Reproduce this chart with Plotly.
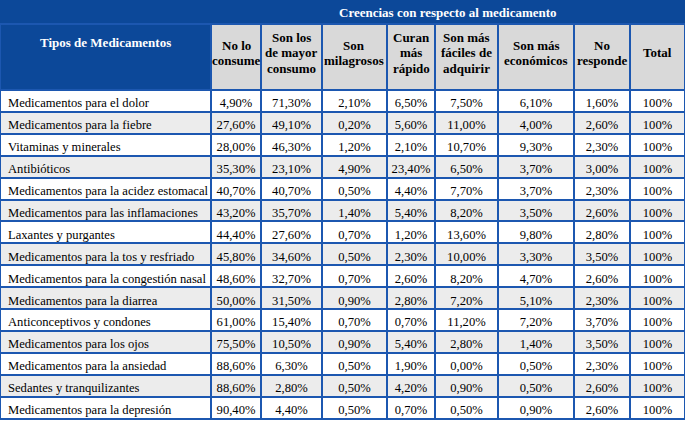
import plotly.graph_objects as go

# Datos de la tabla (porcentajes)
tipos = [
    "Medicamentos para el dolor",
    "Medicamentos para la fiebre",
    "Vitaminas y minerales",
    "Antibióticos",
    "Medicamentos para la acidez estomacal",
    "Medicamentos para las inflamaciones",
    "Laxantes y purgantes",
    "Medicamentos para la tos y resfriado",
    "Medicamentos para la congestión nasal",
    "Medicamentos para la diarrea",
    "Anticonceptivos y condones",
    "Medicamentos para los ojos",
    "Medicamentos para la ansiedad",
    "Sedantes y tranquilizantes",
    "Medicamentos para la depresión",
]
no_lo_consume = [4.9, 27.6, 28.0, 35.3, 40.7, 43.2, 44.4, 45.8, 48.6, 50.0, 61.0, 75.5, 88.6, 88.6, 90.4]
mayor_consumo = [71.3, 49.1, 46.3, 23.1, 40.7, 35.7, 27.6, 34.6, 32.7, 31.5, 15.4, 10.5, 6.3, 2.8, 4.4]
milagrosos = [2.1, 0.2, 1.2, 4.9, 0.5, 1.4, 0.7, 0.5, 0.7, 0.9, 0.7, 0.9, 0.5, 0.5, 0.5]
curan_rapido = [6.5, 5.6, 2.1, 23.4, 4.4, 5.4, 1.2, 2.3, 2.6, 2.8, 0.7, 5.4, 1.9, 4.2, 0.7]
faciles_adquirir = [7.5, 11.0, 10.7, 6.5, 7.7, 8.2, 13.6, 10.0, 8.2, 7.2, 11.2, 2.8, 0.0, 0.9, 0.5]
economicos = [6.1, 4.0, 9.3, 3.7, 3.7, 3.5, 9.8, 3.3, 4.7, 5.1, 7.2, 1.4, 0.5, 0.5, 0.9]
no_responde = [1.6, 2.6, 2.3, 3.0, 2.3, 2.6, 2.8, 3.5, 2.6, 2.3, 3.7, 3.5, 2.3, 2.6, 2.6]
total = [100] * len(tipos)

titulo_grupo = "Creencias con respecto al medicamento"
titulo_tipos = "Tipos de Medicamentos"
encabezados = [
    "No lo<br>consume",
    "Son los<br>de mayor<br>consumo",
    "Son<br>milagrosos",
    "Curan<br>más<br>rápido",
    "Son más<br>fáciles de<br>adquirir",
    "Son más<br>económicos",
    "No<br>responde",
    "Total",
]

# Estilo
W, H = 685, 423
anchos = [211, 50, 61, 65, 48, 63, 76, 56, 55]
alto_banda = 24
alto_encabezado = 66
alto_fila = 21.9
centro_encabezado = 53    # px desde arriba
interlineado = 15.5
AZUL = "#0c4899"
LINEA = "#1c57b0"
GRIS_ENC = "#d9d9d9"
GRIS_FILA = "#ececec"
FUENTE = "Liberation Serif"


def pct(v):
    return f"{v:.2f}".replace(".", ",") + "%"


# espacios duros para que la tabla no parta los nombres largos
nombres = [t.replace(" ", "\u00a0") for t in tipos]
columnas = [no_lo_consume, mayor_consumo, milagrosos, curan_rapido,
            faciles_adquirir, economicos, no_responde]
valores = [nombres] + [[pct(v) for v in col] for col in columnas] + [[f"{t}%" for t in total]]
relleno_filas = ["white" if i % 2 == 0 else GRIS_FILA for i in range(len(tipos))]

y_corte = 1 - alto_banda / H

fig = go.Figure()

# Banda azul superior
fig.add_trace(go.Table(
    domain=dict(x=[0, 1], y=[y_corte, 1]),
    columnwidth=[anchos[0], sum(anchos[1:])],
    header=dict(values=["", ""], height=alto_banda,
                fill_color=AZUL, line=dict(color=AZUL, width=2)),
    cells=dict(values=[[], []]),
))

# Tabla principal
fig.add_trace(go.Table(
    domain=dict(x=[0, 1], y=[0, y_corte]),
    columnwidth=anchos,
    header=dict(
        values=[""] * len(anchos),
        height=alto_encabezado,
        fill_color=[AZUL] + [GRIS_ENC] * (len(anchos) - 1),
        line=dict(color=LINEA, width=2),
    ),
    cells=dict(
        values=valores,
        height=alto_fila,
        align=["left"] + ["center"] * (len(anchos) - 1),
        fill_color=[relleno_filas] * len(anchos),
        line=dict(color=LINEA, width=2),
        font=dict(family=FUENTE, size=12.6, color="black"),
    ),
))

# Textos de encabezado
anotaciones = [
    dict(text=f"<b>{titulo_grupo}</b>", x=(anchos[0] + sum(anchos[1:]) / 2) / W,
         y=1 - alto_banda / 2 / H, color="white"),
    dict(text=f"<b>{titulo_tipos}</b>", x=anchos[0] / 2 / W,
         y=1 - 42 / H, color="white"),
]
inicio = anchos[0]
for texto, ancho in zip(encabezados, anchos[1:]):
    lineas = texto.split("<br>")
    for i, linea in enumerate(lineas):
        y_px = centro_encabezado + (i - (len(lineas) - 1) / 2) * interlineado
        anotaciones.append(dict(text=f"<b>{linea}</b>", x=(inicio + ancho / 2) / W,
                                y=1 - y_px / H, color="black"))
    inicio += ancho

for a in anotaciones:
    fig.add_annotation(
        text=a["text"], x=a["x"], y=a["y"], xref="paper", yref="paper",
        xanchor="center", yanchor="middle", showarrow=False, align="center",
        font=dict(family=FUENTE, size=13, color=a["color"]),
    )

fig.update_layout(
    width=W, height=H,
    margin=dict(l=0, r=0, t=0, b=0),
    paper_bgcolor="white",
    font=dict(family=FUENTE, size=13, color="black"),
)

fig.write_html("out.html", config={"displayModeBar": False},
               post_script="document.body.style.margin = '0';")
